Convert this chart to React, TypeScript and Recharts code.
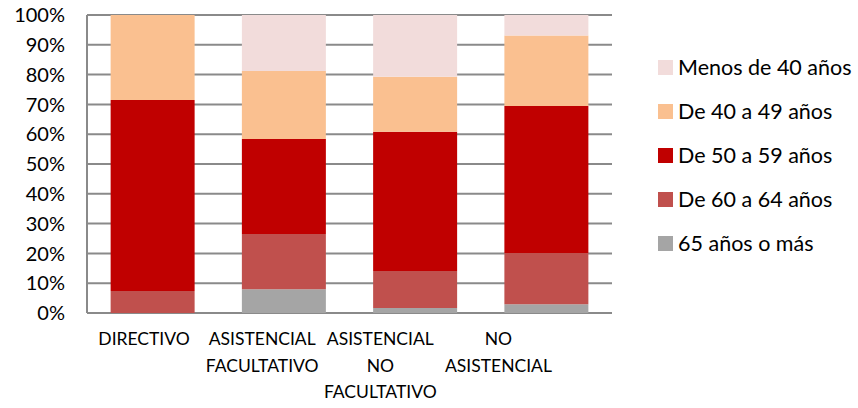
import React from "react";
import { BarChart, Bar, XAxis, YAxis, CartesianGrid } from "recharts";

const CATEGORIES = ["DIRECTIVO", "ASISTENCIAL FACULTATIVO", "ASISTENCIAL NO FACULTATIVO", "NO ASISTENCIAL"];

// percentages per category
const MAS_65 = [0, 8.0, 1.7, 2.9];
const DE_60_64 = [7.4, 18.5, 12.4, 17.2];
const DE_50_59 = [64.1, 31.9, 46.7, 49.4];
const DE_40_49 = [28.5, 22.8, 18.5, 23.6];
const MENOS_40 = [0, 18.8, 20.7, 6.9];

const Y_TICKS = [0, 10, 20, 30, 40, 50, 60, 70, 80, 90, 100];

// stacking order, bottom first
const SERIES = [
  { key: "mas65", name: "65 años o más", values: MAS_65, color: "#A5A5A5" },
  { key: "de6064", name: "De 60 a 64 años", values: DE_60_64, color: "#C0504D" },
  { key: "de5059", name: "De 50 a 59 años", values: DE_50_59, color: "#C00000" },
  { key: "de4049", name: "De 40 a 49 años", values: DE_40_49, color: "#FAC090" },
  { key: "menos40", name: "Menos de 40 años", values: MENOS_40, color: "#F2DCDB" },
];

const data = CATEGORIES.map((name, i) => {
  const row: Record<string, string | number> = { name };
  SERIES.forEach((s) => {
    row[s.key] = s.values[i];
  });
  return row;
});

const FONT = "Lato, 'Liberation Sans', sans-serif";
const PLOT_LEFT = 87;

// the labels in the original sit a bit tighter than the bars, pull them towards the axis
const CategoryTick = (props: any) => {
  const { x, y, payload } = props;
  const lx = PLOT_LEFT + (x - PLOT_LEFT) * 0.9 - 2;
  const lines = String(payload.value).split(" ");
  return (
    <text x={lx} y={y + 24} textAnchor="middle" fill="#000" fontSize={17.5} fontFamily={FONT}>
      {lines.map((l, i) => (
        <tspan key={i} x={lx} dy={i === 0 ? 0 : 26.5}>
          {l}
        </tspan>
      ))}
    </text>
  );
};

// legend kept outside the chart so it does not eat plot width
const ChartLegend = () => (
  <div style={{ position: "absolute", left: 658, top: 45, fontFamily: FONT, fontSize: 21.5, color: "#000" }}>
    {[...SERIES].reverse().map((s) => (
      <div key={s.key} style={{ display: "flex", alignItems: "center", height: 44 }}>
        <span style={{ width: 15, height: 15, background: s.color, marginRight: 5, display: "inline-block" }} />
        <span>{s.name}</span>
      </div>
    ))}
  </div>
);

export default function App() {
  return (
    <div style={{ position: "absolute", left: 0, top: 0, width: 858, height: 408, background: "#fff" }}>
      <BarChart
        width={858}
        height={408}
        data={data}
        margin={{ top: 15, right: 246, left: 0, bottom: 0 }}
        barCategoryGap="18%"
      >
        <CartesianGrid horizontal vertical={false} stroke="#8a8a8a" strokeWidth={2} />
        <XAxis
          dataKey="name"
          height={95}
          axisLine={false}
          tickLine={false}
          interval={0}
          tick={<CategoryTick />}
        />
        <YAxis
          width={87}
          domain={[0, 100]}
          ticks={Y_TICKS}
          tickFormatter={(v) => `${v}%`}
          axisLine={{ stroke: "#8a8a8a", strokeWidth: 2 }}
          tickLine={false}
          tickMargin={16}
          tick={{ fill: "#000", fontSize: 20, fontFamily: FONT }}
          interval={0}
        />
        {SERIES.map((s) => (
          <Bar
            key={s.key}
            dataKey={s.key}
            name={s.name}
            stackId="a"
            fill={s.color}
            isAnimationActive={false}
          />
        ))}
      </BarChart>
      <ChartLegend />
    </div>
  );
}
